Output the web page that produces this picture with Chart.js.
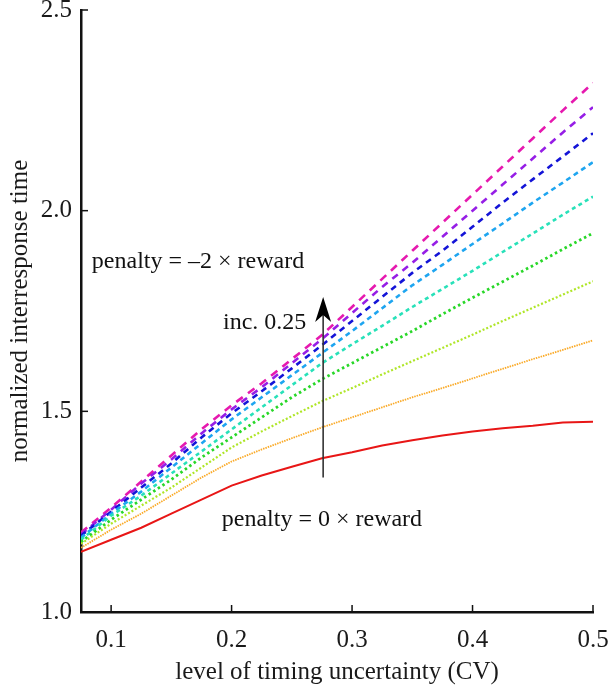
<!DOCTYPE html>
<html>
<head>
<meta charset="utf-8">
<script src="https://cdn.jsdelivr.net/npm/chart.js@4.4.1/dist/chart.umd.min.js"></script>
<style>
  body { margin: 0; background: #fff; }
  #wrap { width: 608px; height: 689px; }
</style>
</head>
<body>
<div id="wrap"><canvas id="myChart" width="608" height="689"></canvas></div>
<script>
// level of timing uncertainty (CV)
var cv = [0.075, 0.1, 0.125, 0.15, 0.175, 0.2, 0.225, 0.25, 0.275, 0.3,
          0.325, 0.35, 0.375, 0.4, 0.425, 0.45, 0.475, 0.5];

// normalized interresponse time, one array per penalty level
var pen0    = [1.150, 1.180, 1.210, 1.245, 1.280, 1.315, 1.340, 1.362, 1.383, 1.398, 1.415, 1.428, 1.440, 1.450, 1.458, 1.464, 1.472, 1.474];
var pen025  = [1.160, 1.205, 1.245, 1.290, 1.335, 1.375, 1.405, 1.433, 1.460, 1.485, 1.510, 1.535, 1.558, 1.582, 1.606, 1.630, 1.653, 1.677];
var pen050  = [1.170, 1.220, 1.265, 1.310, 1.360, 1.410, 1.450, 1.488, 1.525, 1.558, 1.592, 1.625, 1.658, 1.691, 1.725, 1.758, 1.791, 1.824];
var pen075  = [1.175, 1.230, 1.280, 1.330, 1.385, 1.435, 1.485, 1.535, 1.580, 1.620, 1.660, 1.700, 1.742, 1.783, 1.823, 1.863, 1.904, 1.944];
var pen100  = [1.180, 1.240, 1.290, 1.345, 1.400, 1.455, 1.510, 1.565, 1.620, 1.667, 1.713, 1.760, 1.805, 1.850, 1.897, 1.943, 1.990, 2.035];
var pen125  = [1.185, 1.245, 1.300, 1.360, 1.420, 1.480, 1.535, 1.590, 1.645, 1.700, 1.757, 1.814, 1.865, 1.917, 1.968, 2.020, 2.070, 2.121];
var pen150  = [1.190, 1.250, 1.310, 1.370, 1.435, 1.495, 1.550, 1.607, 1.665, 1.725, 1.785, 1.845, 1.900, 1.960, 2.020, 2.078, 2.135, 2.193];
var pen175  = [1.193, 1.255, 1.320, 1.380, 1.445, 1.505, 1.560, 1.620, 1.680, 1.745, 1.810, 1.870, 1.935, 2.000, 2.065, 2.130, 2.195, 2.258];
var pen200  = [1.198, 1.260, 1.325, 1.390, 1.455, 1.515, 1.570, 1.630, 1.690, 1.760, 1.830, 1.900, 1.970, 2.040, 2.110, 2.180, 2.250, 2.318];

var penalties = ['0', '-0.25', '-0.5', '-0.75', '-1', '-1.25', '-1.5', '-1.75', '-2'];
var series = [pen0, pen025, pen050, pen075, pen100, pen125, pen150, pen175, pen200];

var xTicks = [0.1, 0.2, 0.3, 0.4, 0.5];
var yTicks = [1.0, 1.5, 2.0, 2.5];

// styles
var colores = ['rgb(232,22,22)', 'rgb(250,170,40)', 'rgb(175,230,40)', 'rgb(40,215,40)',
               'rgb(40,225,185)', 'rgb(30,165,240)', 'rgb(20,20,215)', 'rgb(150,30,230)', 'rgb(230,25,175)'];
var dashes = [[], [1.5, 1], [2, 2], [2.5, 3], [4, 3.5], [5, 4], [6, 5], [7, 6], [8, 6.5]];
var anchos = [2, 1.8, 2.2, 2.8, 2.6, 2.6, 2.6, 2.6, 2.6];

var serif = 'Liberation Serif';
Chart.defaults.font.family = serif;
Chart.defaults.color = '#1a1a1a';

var datasets = [];
for (var i = 0; i < series.length; i++) {
  var pts = [];
  for (var j = 0; j < cv.length; j++) {
    pts.push({ x: cv[j], y: series[i][j] });
  }
  datasets.push({
    label: 'penalty = ' + penalties[i] + ' × reward',
    data: pts,
    borderColor: colores[i],
    borderWidth: anchos[i],
    borderDash: dashes[i],
    pointRadius: 0,
    fill: false,
    tension: 0
  });
}

// inward ticks, arrow and labels inside the plot
var extras = {
  id: 'extras',
  afterDraw: function (chart) {
    var ctx = chart.ctx;
    var xs = chart.scales.x;
    var ys = chart.scales.y;
    ctx.save();
    ctx.strokeStyle = '#111';
    ctx.lineWidth = 1.5;
    xTicks.forEach(function (v) {
      var px = xs.getPixelForValue(v);
      ctx.beginPath();
      ctx.moveTo(px, ys.bottom);
      ctx.lineTo(px, ys.bottom - 7);
      ctx.stroke();
    });
    yTicks.forEach(function (v) {
      var py = ys.getPixelForValue(v);
      ctx.beginPath();
      ctx.moveTo(xs.left, py);
      ctx.lineTo(xs.left + 7, py);
      ctx.stroke();
    });

    // arrow
    var ax = xs.getPixelForValue(0.276);
    var ay0 = ys.getPixelForValue(1.335);
    var ay1 = ys.getPixelForValue(1.785);
    ctx.strokeStyle = '#333';
    ctx.lineWidth = 1.6;
    ctx.beginPath();
    ctx.moveTo(ax, ay0);
    ctx.lineTo(ax, ay1 + 10);
    ctx.stroke();
    ctx.fillStyle = '#000';
    ctx.beginPath();
    ctx.moveTo(ax, ay1);
    ctx.lineTo(ax - 8, ay1 + 25);
    ctx.lineTo(ax, ay1 + 18);
    ctx.lineTo(ax + 8, ay1 + 25);
    ctx.closePath();
    ctx.fill();

    // text
    ctx.fillStyle = '#111';
    ctx.font = '24px "' + serif + '"';
    ctx.textBaseline = 'middle';
    ctx.textAlign = 'left';
    ctx.fillText('penalty = –2 × reward', xs.getPixelForValue(0.084), ys.getPixelForValue(1.872));
    ctx.textAlign = 'right';
    ctx.fillText('inc. 0.25', xs.getPixelForValue(0.262), ys.getPixelForValue(1.722));
    ctx.textAlign = 'center';
    ctx.fillText('penalty = 0 × reward', xs.getPixelForValue(0.275), ys.getPixelForValue(1.230));
    ctx.restore();
  }
};

new Chart(document.getElementById('myChart'), {
  type: 'line',
  data: { datasets: datasets },
  options: {
    responsive: false,
    animation: false,
    layout: { padding: { top: 10, right: 15, left: 0, bottom: 0 } },
    plugins: {
      legend: { display: false },
      tooltip: { enabled: false }
    },
    scales: {
      x: {
        type: 'linear',
        min: 0.075,
        max: 0.5,
        afterFit: function (scale) {
          scale.height = 77;
          scale.paddingLeft = 0;
          scale.paddingRight = 0;
        },
        afterBuildTicks: function (scale) {
          scale.ticks = xTicks.map(function (v) { return { value: v }; });
        },
        grid: { display: false, drawTicks: false },
        border: { display: true, color: '#111', width: 2.5 },
        ticks: {
          padding: 13,
          maxRotation: 0,
          font: { size: 25 },
          callback: function (v) { return Number(v).toFixed(1); }
        },
        title: {
          display: true,
          text: 'level of timing uncertainty (CV)',
          font: { size: 25 },
          padding: { top: 0, bottom: 2 }
        }
      },
      y: {
        min: 1.0,
        max: 2.5,
        afterFit: function (scale) {
          scale.width = 81;
          scale.paddingTop = 0;
          scale.paddingBottom = 0;
        },
        afterBuildTicks: function (scale) {
          scale.ticks = yTicks.map(function (v) { return { value: v }; });
        },
        grid: { display: false, drawTicks: false },
        border: { display: true, color: '#111', width: 2.5 },
        ticks: {
          padding: 9,
          font: { size: 25 },
          callback: function (v) { return Number(v).toFixed(1); }
        },
        title: {
          display: true,
          text: 'normalized interresponse time',
          font: { size: 25 },
          padding: { top: 5, bottom: 0 }
        }
      }
    }
  },
  plugins: [extras]
});
</script>
</body>
</html>
